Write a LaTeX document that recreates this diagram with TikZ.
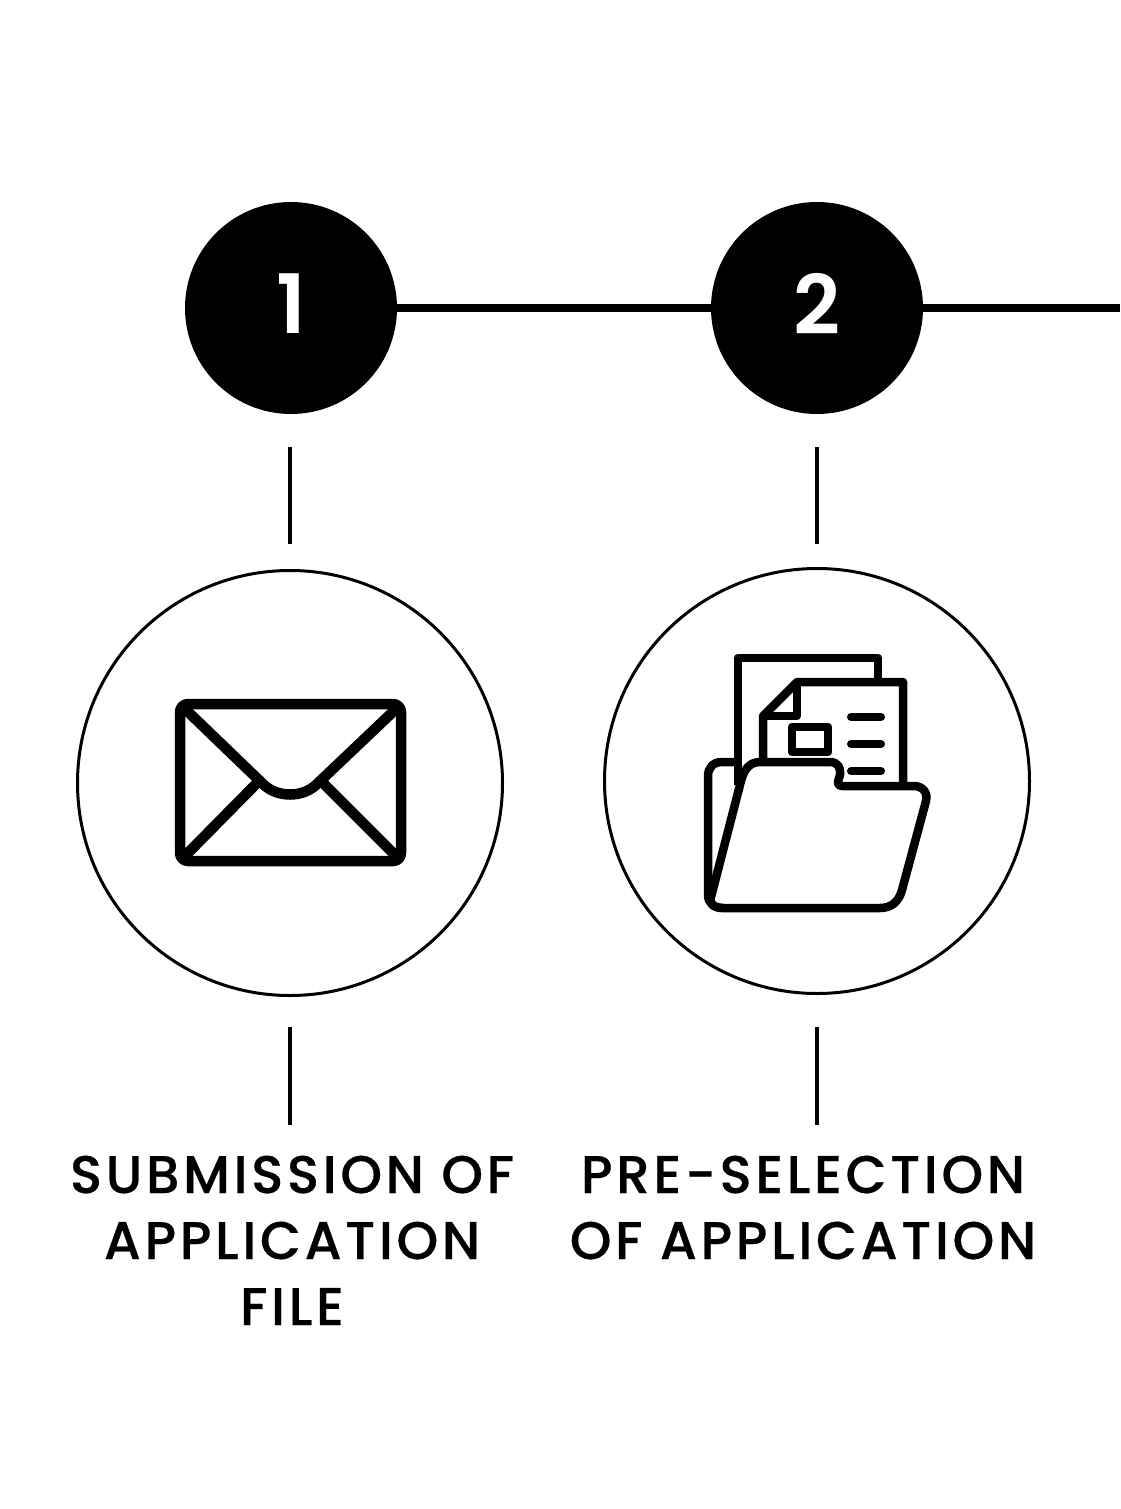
\documentclass[tikz,border=0pt]{standalone}
\usepackage{fontspec}
\setmainfont{Poppins}
\newfontfamily\lab[LetterSpace=7,FakeBold=0.5,Kerning=On]{Poppins Medium}
\newfontfamily\num{Poppins SemiBold}
\tikzset{
  x=1pt,y=-1pt,
  stepdot/.style={circle,fill=black,minimum size=212pt,inner sep=0pt,text=white,font=\num\fontsize{82}{82}\selectfont},
  ring/.style={circle,draw=black,line width=3pt,minimum size=425pt,inner sep=0pt},
  tick/.style={line width=3.4pt,draw=black},
  rail/.style={line width=8pt,draw=black,yshift=1pt},
  ico/.style={line width=8.5pt,draw=black,line join=round},
  label/.style={anchor=base,inner sep=0pt,font=\lab\fontsize{53}{66}\selectfont}
}
\begin{document}
\begin{tikzpicture}
\useasboundingbox (0,0) rectangle (1120,1509);
\coordinate (railend) at (1120,308);
% step circles
\node[stepdot] (s1) at (291,308) {\raisebox{8pt}{1}};
\node[stepdot] (s2) at (817,308) {\raisebox{8pt}{2}};
\draw[rail] (s1) -- (s2);
\draw[rail] (s2) -- (railend);
% rings
\node[ring] (r1) at (290,783) {};
\node[ring] (r2) at (817,781) {};
% ticks
\coordinate (t1a) at (290,447); \coordinate (t1b) at (290,544);
\coordinate (t1c) at (290,1027); \coordinate (t1d) at (290,1125);
\coordinate (t2a) at (817,447); \coordinate (t2b) at (817,544);
\coordinate (t2c) at (817,1027); \coordinate (t2d) at (817,1125);
\draw[tick] (t1a) -- (t1b);
\draw[tick] (t1c) -- (t1d);
\draw[tick] (t2a) -- (t2b);
\draw[tick] (t2c) -- (t2d);
% envelope
\begin{scope}[line width=10.5pt,line join=round]
\draw[rounded corners=8pt] (180,704) rectangle (401,861);
\draw (184,708) -- (263,784) .. controls (277,798) and (303,798) .. (317,784) -- (397,708);
\draw (182,859) -- (258,782);
\draw (322,782) -- (399,859);
\end{scope}
% folder: pages
\draw[ico] (738,785) -- (738,658) -- (878,658) -- (878,682);
\draw[ico] (763,762) -- (763,716) -- (797,682) -- (903,682) -- (903,786);
\draw[ico] (797,682) -- (797,716) -- (763,716);
\draw[ico] (792,727) rectangle (828,752);
\draw[line width=8pt,line cap=round] (851,717) -- (881,717);
\draw[line width=8pt,line cap=round] (851,744) -- (881,744);
\draw[line width=8pt,line cap=round] (851,771) -- (881,771);
% folder: back panel
\draw[ico] (737,762) -- (722,762) .. controls (713,762) and (708,768) .. (708,776) -- (708,895) .. controls (708,903) and (714,908) .. (723,908);
% folder: front
\draw[ico] (711,897) -- (741,781) .. controls (744,769) and (750,762) .. (760,762)
  -- (830,762) .. controls (838,762) and (841,768) .. (840,775)
  .. controls (838,781) and (836,786) .. (842,786) -- (914,786)
  .. controls (923,786) and (928,793) .. (926,801) -- (902,890)
  .. controls (899,901) and (892,908) .. (880,908) -- (723,908)
  .. controls (714,908) and (709,904) .. (711,897) -- cycle;
% labels
\node[label] (l1a) at (292,1193) {SUBMISSION OF};
\node[label] (l1b) at (292,1259) {APPLICATION};
\node[label] (l1c) at (292,1325) {FILE};
\node[label] (l2a) at (803,1193) {PRE-SELECTION};
\node[label] (l2b) at (803,1259) {OF APPLICATION};
\end{tikzpicture}
\end{document}
